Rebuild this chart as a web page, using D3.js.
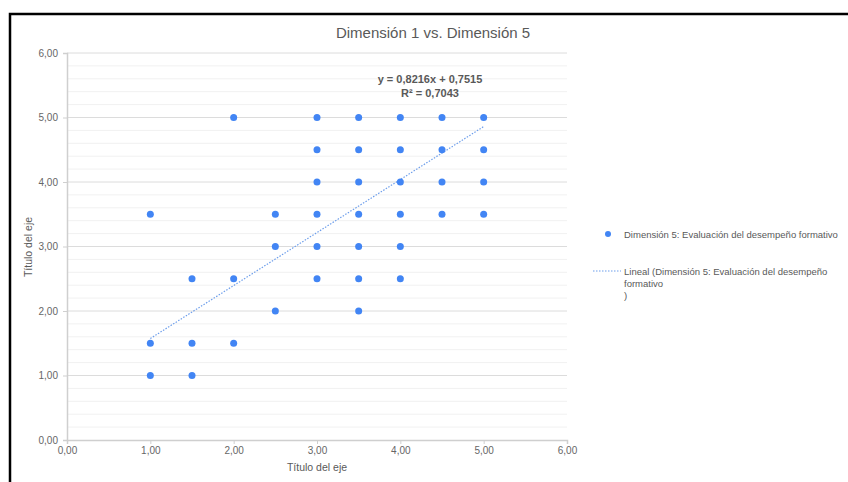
<!DOCTYPE html>
<html>
<head>
<meta charset="utf-8">
<script src="https://cdn.jsdelivr.net/npm/d3@7"></script>
<style>
  body { margin: 0; background: #fff; }
  svg { display: block; font-family: "Liberation Sans", Arial, sans-serif; }
</style>
</head>
<body>
<svg id="chart" width="848" height="482"></svg>
<script>
// datos del gráfico
const xValues = [1, 1, 1, 1.5, 1.5, 1.5, 2, 2, 2, 2.5, 2.5, 2.5,
  3, 3, 3, 3, 3, 3, 3.5, 3.5, 3.5, 3.5, 3.5, 3.5, 3.5,
  4, 4, 4, 4, 4, 4, 4.5, 4.5, 4.5, 4.5, 5, 5, 5, 5];
const yValues = [1, 1.5, 3.5, 1, 1.5, 2.5, 1.5, 2.5, 5, 2, 3, 3.5,
  2.5, 3, 3.5, 4, 4.5, 5, 2, 2.5, 3, 3.5, 4, 4.5, 5,
  2.5, 3, 3.5, 4, 4.5, 5, 3.5, 4, 4.5, 5, 3.5, 4, 4.5, 5];
const axisTicks = [0, 1, 2, 3, 4, 5, 6];
const trendSlope = 0.8216;
const trendIntercept = 0.7515;
const trendRange = [1, 5];
const equationLines = ["y = 0,8216x + 0,7515", "R² = 0,7043"];
const titleText = "Dimensión 1 vs. Dimensión 5";
const seriesName = "Dimensión 5: Evaluación del desempeño formativo";
const trendLegend = ["Lineal (Dimensión 5: Evaluación del desempeño", "formativo", ")"];

const svg = d3.select('#chart');
const textColor = '#595959';
const dotColor = '#4285f4';

// marco negro
svg.append('rect')
  .attr('x', 10).attr('y', 14)
  .attr('width', 860).attr('height', 490)
  .attr('fill', 'none')
  .attr('stroke', '#000')
  .attr('stroke-width', 2.5);

const x = d3.scaleLinear().domain([0, 6]).range([67, 567]);
const y = d3.scaleLinear().domain([0, 6]).range([440, 53]);

const fmt = v => v.toFixed(2).replace('.', ',');

// líneas de cuadrícula menores y mayores
const minor = d3.range(0, 6.001, 0.2).filter(v => Math.abs(v - Math.round(v)) > 0.01);
svg.append('g').selectAll('line').data(minor).join('line')
  .attr('x1', x(0)).attr('x2', x(6))
  .attr('y1', d => y(d)).attr('y2', d => y(d))
  .attr('stroke', '#f1f1f1').attr('stroke-width', 1);
svg.append('g').selectAll('line').data(axisTicks.slice(1)).join('line')
  .attr('x1', x(0)).attr('x2', x(6))
  .attr('y1', d => y(d)).attr('y2', d => y(d))
  .attr('stroke', '#dcdcdc').attr('stroke-width', 1);

// ejes
const xAxis = svg.append('g')
  .attr('transform', `translate(0,${y(0)})`)
  .call(d3.axisBottom(x).tickValues(axisTicks).tickFormat(fmt).tickSize(4).tickPadding(3));
const yAxis = svg.append('g')
  .attr('transform', `translate(${x(0)},0)`)
  .call(d3.axisLeft(y).tickValues(axisTicks).tickFormat(fmt).tickSize(4).tickPadding(5));
[xAxis, yAxis].forEach(g => {
  g.select('.domain').attr('stroke', '#cfcfcf').attr('stroke-width', 1.5);
  g.selectAll('.tick line').attr('stroke', '#cfcfcf');
  g.selectAll('.tick text').attr('fill', '#666').attr('font-size', 10)
    .attr('font-family', '"Liberation Sans", Arial, sans-serif');
});

// línea de tendencia
svg.append('line')
  .attr('x1', x(trendRange[0])).attr('y1', y(trendSlope * trendRange[0] + trendIntercept))
  .attr('x2', x(trendRange[1])).attr('y2', y(trendSlope * trendRange[1] + trendIntercept))
  .attr('stroke', '#6d9eeb')
  .attr('stroke-width', 1.2)
  .attr('stroke-dasharray', '1.5,1.5');

// puntos
svg.append('g').selectAll('circle').data(xValues.map((v, i) => [v, yValues[i]])).join('circle')
  .attr('cx', d => x(d[0]))
  .attr('cy', d => y(d[1]))
  .attr('r', 3.5)
  .attr('fill', dotColor);

// título
svg.append('text')
  .attr('x', 433).attr('y', 38)
  .attr('text-anchor', 'middle')
  .attr('font-size', 15)
  .attr('fill', textColor)
  .text(titleText);

// ecuación
svg.append('text')
  .attr('x', 430).attr('y', 83)
  .attr('text-anchor', 'middle')
  .attr('font-size', 11)
  .attr('font-weight', 'bold')
  .attr('fill', textColor)
  .selectAll('tspan').data(equationLines).join('tspan')
  .attr('x', 430)
  .attr('dy', (d, i) => i ? 14 : 0)
  .text(d => d);

// títulos de ejes
svg.append('text')
  .attr('x', x(3)).attr('y', 471)
  .attr('text-anchor', 'middle')
  .attr('font-size', 10.5)
  .attr('fill', textColor)
  .text('Título del eje');
svg.append('text')
  .attr('transform', 'translate(32,247) rotate(-90)')
  .attr('text-anchor', 'middle')
  .attr('font-size', 10.5)
  .attr('fill', textColor)
  .text('Título del eje');

// leyenda
svg.append('circle')
  .attr('cx', 608).attr('cy', 234).attr('r', 3)
  .attr('fill', dotColor);
svg.append('text')
  .attr('x', 624).attr('y', 237.5)
  .attr('font-size', 9.5)
  .attr('fill', textColor)
  .text(seriesName);
svg.append('line')
  .attr('x1', 593).attr('x2', 621).attr('y1', 271).attr('y2', 271)
  .attr('stroke', '#6d9eeb')
  .attr('stroke-width', 1.2)
  .attr('stroke-dasharray', '1.5,1.5');
svg.append('text')
  .attr('font-size', 9.5)
  .attr('fill', textColor)
  .selectAll('tspan').data(trendLegend).join('tspan')
  .attr('x', 624)
  .attr('y', (d, i) => 274.5 + i * 12)
  .text(d => d);
</script>
</body>
</html>
